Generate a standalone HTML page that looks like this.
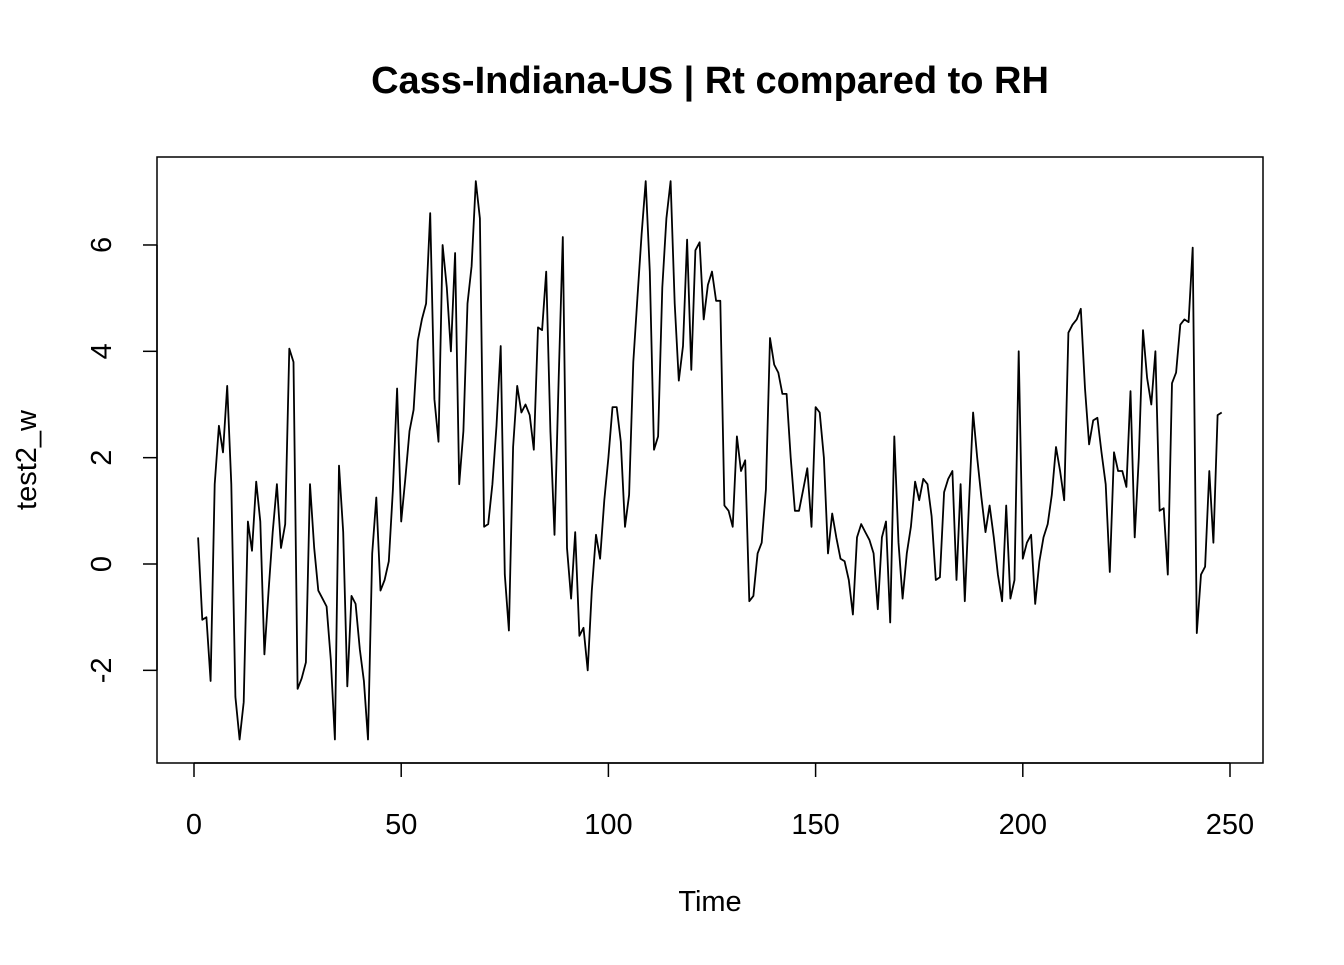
<!DOCTYPE html>
<html><head><meta charset="utf-8"><style>
body{margin:0;background:#fff;}
svg text{font-family:"Liberation Sans",Arial,sans-serif;fill:#000;}
</style></head><body>
<svg id="chart" width="1344" height="960" viewBox="0 0 1344 960" xmlns="http://www.w3.org/2000/svg">
<rect width="1344" height="960" fill="#fff"/>
<text x="710" y="93" text-anchor="middle" font-size="38" font-weight="bold">Cass-Indiana-US | Rt compared to RH</text>
<rect x="157" y="157" width="1106" height="606" fill="none" stroke="#000" stroke-width="1.5"/>
<g id="xaxis"></g>
<g id="yaxis"></g>
<text x="710" y="911" text-anchor="middle" font-size="29">Time</text>
<text transform="translate(36,460) rotate(-90)" text-anchor="middle" font-size="29">test2_w</text>
<path id="series" fill="none" stroke="#000" stroke-width="1.8" stroke-linejoin="round"/>
</svg>
<script>
const values = [0.5,-1.05,-1.0,-2.2,1.5,2.6,2.1,3.35,1.5,-2.5,-3.3,-2.6,0.8,0.25,1.55,0.8,-1.7,-0.5,0.6,1.5,0.3,0.75,4.05,3.8,-2.35,-2.15,-1.85,1.5,0.3,-0.5,-0.65,-0.8,-1.8,-3.3,1.85,0.6,-2.3,-0.6,-0.75,-1.6,-2.2,-3.3,0.2,1.25,-0.5,-0.3,0.05,1.4,3.3,0.8,1.6,2.5,2.9,4.2,4.6,4.9,6.6,3.1,2.3,6.0,5.2,4.0,5.85,1.5,2.5,4.9,5.6,7.2,6.5,0.7,0.75,1.5,2.6,4.1,-0.2,-1.25,2.2,3.35,2.85,3.0,2.8,2.15,4.45,4.4,5.5,2.5,0.55,3.5,6.15,0.3,-0.65,0.6,-1.35,-1.2,-2.0,-0.5,0.55,0.1,1.2,2.0,2.95,2.95,2.3,0.7,1.3,3.8,5.0,6.2,7.2,5.5,2.15,2.4,5.2,6.5,7.2,4.9,3.45,4.1,6.1,3.65,5.9,6.05,4.6,5.25,5.5,4.95,4.95,1.1,1.0,0.7,2.4,1.75,1.95,-0.7,-0.6,0.2,0.4,1.4,4.25,3.75,3.6,3.2,3.2,2.0,1.0,1.0,1.4,1.8,0.7,2.95,2.85,2.0,0.2,0.95,0.5,0.1,0.05,-0.3,-0.95,0.5,0.75,0.6,0.45,0.2,-0.85,0.5,0.8,-1.1,2.4,0.4,-0.65,0.2,0.7,1.55,1.2,1.6,1.5,0.9,-0.3,-0.25,1.35,1.6,1.75,-0.3,1.5,-0.7,1.1,2.85,2.0,1.25,0.6,1.1,0.5,-0.2,-0.7,1.1,-0.65,-0.3,4.0,0.1,0.4,0.55,-0.75,0.05,0.5,0.75,1.3,2.2,1.75,1.2,4.35,4.5,4.6,4.8,3.3,2.25,2.7,2.75,2.1,1.5,-0.15,2.1,1.75,1.75,1.45,3.25,0.5,2.0,4.4,3.5,3.0,4.0,1.0,1.05,-0.2,3.4,3.6,4.5,4.6,4.55,5.95,-1.3,-0.2,-0.05,1.75,0.4,2.8,2.85];
const xTicks = [0,50,100,150,200,250];
const yTicks = [-2,0,2,4,6];
const NS="http://www.w3.org/2000/svg";
function xs(t){return 194+(t*(1230-194)/250);}
function ys(v){return 564-v*53.17;}
let d="";
values.forEach((v,i)=>{d+=(i?"L":"M")+xs(i+1).toFixed(1)+","+ys(v).toFixed(1);});
document.getElementById("series").setAttribute("d",d);
const xa=document.getElementById("xaxis");
const ax=document.createElementNS(NS,"line");


ax.setAttribute("x1",xs(0));ax.setAttribute("x2",xs(250));ax.setAttribute("y1",763);ax.setAttribute("y2",763);ax.setAttribute("stroke","#000");ax.setAttribute("stroke-width","1.5");
xa.appendChild(ax);
xTicks.forEach(t=>{
 const l=document.createElementNS(NS,"line");
 
 
 l.setAttribute("x1",xs(t));l.setAttribute("x2",xs(t));l.setAttribute("y1",763);l.setAttribute("y2",777);l.setAttribute("stroke","#000");l.setAttribute("stroke-width","1.5");
 xa.appendChild(l);
 const tx=document.createElementNS(NS,"text");
 
 
 tx.setAttribute("x",xs(t));tx.setAttribute("y",834);tx.setAttribute("text-anchor","middle");tx.setAttribute("font-size","29");
 tx.textContent=t;xa.appendChild(tx);
});
const ya=document.getElementById("yaxis");
const ay=document.createElementNS(NS,"line");


ay.setAttribute("x1",157);ay.setAttribute("x2",157);ay.setAttribute("y1",ys(-2));ay.setAttribute("y2",ys(6));ay.setAttribute("stroke","#000");ay.setAttribute("stroke-width","1.5");
ya.appendChild(ay);
yTicks.forEach(v=>{
 const l=document.createElementNS(NS,"line");
 
 
 l.setAttribute("x1",143);l.setAttribute("x2",157);l.setAttribute("y1",ys(v));l.setAttribute("y2",ys(v));l.setAttribute("stroke","#000");l.setAttribute("stroke-width","1.5");
 ya.appendChild(l);
 const tx=document.createElementNS(NS,"text");
 
 
 tx.setAttribute("transform","translate(111,"+ys(v)+") rotate(-90)");tx.setAttribute("text-anchor","middle");tx.setAttribute("font-size","29");
 tx.textContent=v;ya.appendChild(tx);
});
</script>
</body></html>
